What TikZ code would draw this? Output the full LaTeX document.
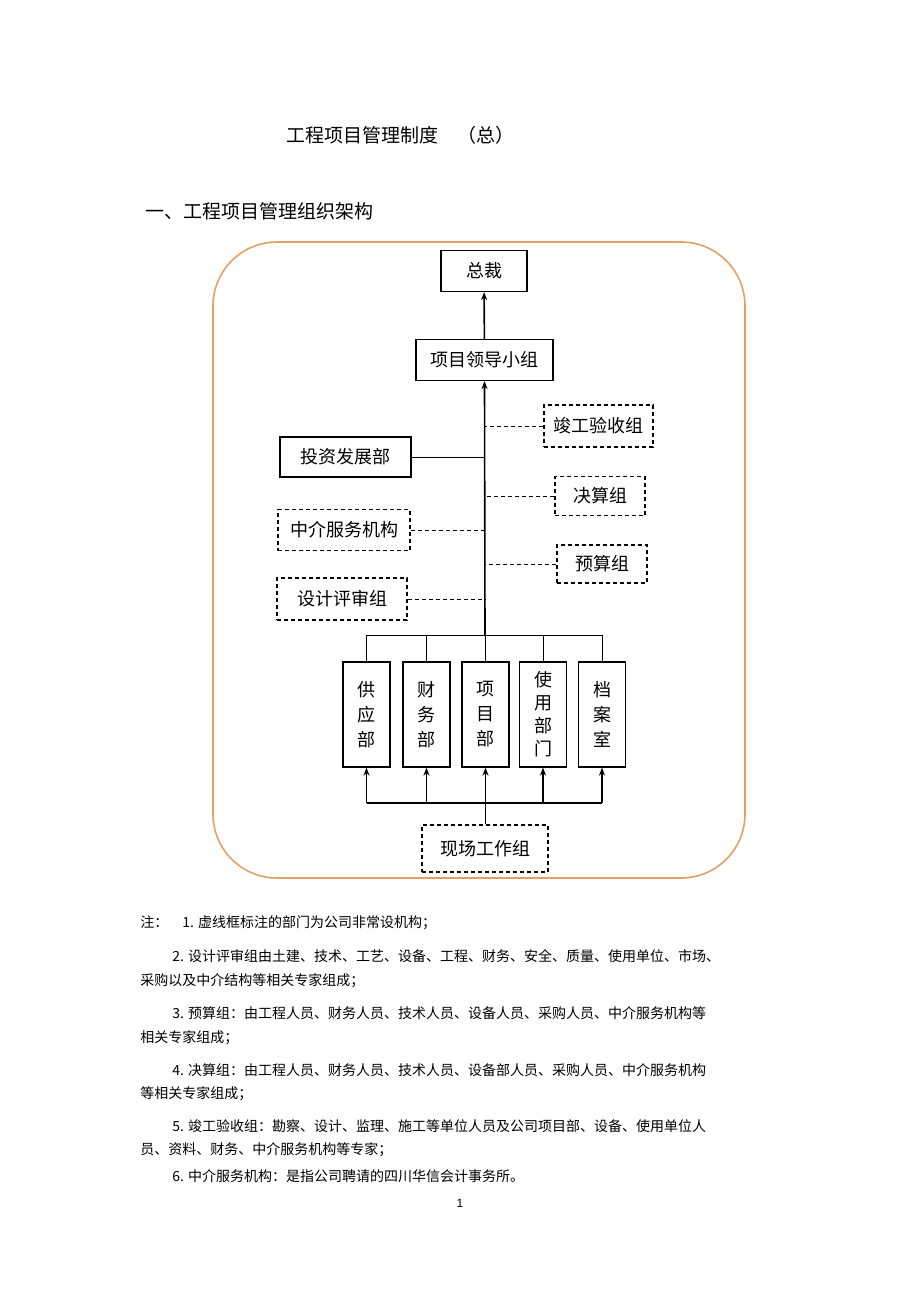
\documentclass[tikz,border=0pt]{standalone}
\usepackage{fontspec}
\setmainfont{Liberation Sans}
\newfontfamily\cjk{Noto Sans CJK SC}
\usetikzlibrary{arrows.meta, positioning}
\definecolor{frameorange}{RGB}{226,160,100}
\tikzset{
  solidbox/.style={rectangle, draw=black, line width=0.6pt, font=\cjk\fontsize{9}{11}\selectfont, inner sep=0pt},
  dashbox/.style={solidbox, dash pattern=on 2pt off 1.5pt},
  vbox/.style={solidbox, minimum width=23.5pt, minimum height=52.5pt, align=center,
               font=\cjk\fontsize{9}{12.5}\selectfont},
  arrow/.style={thick, -{Stealth[length=4pt]}, black},
  link/.style={black, line width=0.5pt},
  dlink/.style={black, line width=0.5pt, dash pattern=on 2pt off 1.5pt},
  note/.style={anchor=west, font=\cjk\fontsize{7}{8}\selectfont, inner sep=0pt},
}
\begin{document}
\begin{tikzpicture}[x=0.5pt, y=-0.5pt]
    \useasboundingbox (0,0) rectangle (920,1303);
    % Headings
    \node[font=\cjk\fontsize{9.5}{11}\selectfont] (title) at (400,135) {工程项目管理制度\quad （总）};
    \node[anchor=west, font=\cjk\fontsize{9.5}{11}\selectfont] (section) at (138,211) {一、工程项目管理组织架构};
    % Frame
    \draw[frameorange, thick, rounded corners=32pt] (213,242) rectangle (745,878);
    % Top of the chart
    \node[solidbox, minimum width=43pt, minimum height=20.5pt] (president) at (484,271) {总裁};
    \node[solidbox, minimum width=68.5pt, minimum height=20.5pt] (leader) at (484.5,360) {项目领导小组};
    % Side groups
    \node[dashbox, minimum width=54.5pt, minimum height=21pt] (accept) at (598.5,426) {竣工验收组};
    \node[solidbox, minimum width=65.5pt, minimum height=20pt] (invest) at (345.5,457) {投资发展部};
    \node[dashbox, minimum width=45pt, minimum height=19.5pt] (final) at (600,496) {决算组};
    \node[dashbox, minimum width=66pt, minimum height=20.5pt] (agency) at (344,530) {中介服务机构};
    \node[dashbox, minimum width=45pt, minimum height=19pt] (budget) at (602,564) {预算组};
    \node[dashbox, minimum width=65pt, minimum height=21pt] (review) at (342,599) {设计评审组};
    % Departments
    \node[vbox] (supply) at (366.5,714.5) {供\\应\\部};
    \node[vbox] (finance) at (426.5,714.5) {财\\务\\部};
    \node[vbox] (project) at (485.5,714.5) {项\\目\\部};
    \node[vbox, font=\cjk\fontsize{9}{11.5}\selectfont] (user) at (543,714.5) {使\\用\\部\\门};
    \node[vbox] (archive) at (602,714.5) {档\\案\\室};
    \node[dashbox, minimum width=63pt, minimum height=23.5pt] (site) at (485,848.5) {现场工作组};
    % Coordinates
    \coordinate (top) at (485,635);
    \coordinate (bot) at (485,803);
    % Trunk
    \draw[arrow] (top) -- (leader.south);
    \draw[arrow] (leader) -- (president);
    \draw[dlink] (accept.west) -- (accept.west -| top);
    \draw[link] (invest.east) -- (invest.east -| top);
    \draw[dlink] (final.west) -- (final.west -| top);
    \draw[dlink] (agency.east) -- (agency.east -| top);
    \draw[dlink] (budget.west) -- (budget.west -| top);
    \draw[dlink] (review.east) -- (review.east -| top);
    % Upper bus
    \draw[link] (top -| supply) -- (top -| archive);
    \foreach \d in {supply, finance, project, user, archive}
        \draw[link] (top -| \d) -- (\d.north);
    % Lower bus
    \draw[link] (site.north) -- (bot);
    \draw[thick] (bot -| supply) -- (bot -| archive);
    \foreach \d in {supply, finance, project, user, archive}
        \draw[arrow] (bot -| \d) -- (\d.south);
    % Notes
    \node[note] (n1) at (140,923) {注：\quad 1. 虚线框标注的部门为公司非常设机构；};
    \node[note] (n2a) at (172,956) {2. 设计评审组由土建、技术、工艺、设备、工程、财务、安全、质量、使用单位、市场、};
    \node[note] (n2b) at (140,981) {采购以及中介结构等相关专家组成；};
    \node[note] (n3a) at (172,1013) {3. 预算组：由工程人员、财务人员、技术人员、设备人员、采购人员、中介服务机构等};
    \node[note] (n3b) at (140,1038) {相关专家组成；};
    \node[note] (n4a) at (172,1070) {4. 决算组：由工程人员、财务人员、技术人员、设备部人员、采购人员、中介服务机构};
    \node[note] (n4b) at (140,1094) {等相关专家组成；};
    \node[note] (n5a) at (172,1126) {5. 竣工验收组：勘察、设计、监理、施工等单位人员及公司项目部、设备、使用单位人};
    \node[note] (n5b) at (140,1150) {员、资料、财务、中介服务机构等专家；};
    \node[note] (n6) at (172,1176) {6. 中介服务机构：是指公司聘请的四川华信会计事务所。};
    \node[font=\fontsize{6}{7}\selectfont] (page) at (460,1203) {1};
\end{tikzpicture}
\end{document}
